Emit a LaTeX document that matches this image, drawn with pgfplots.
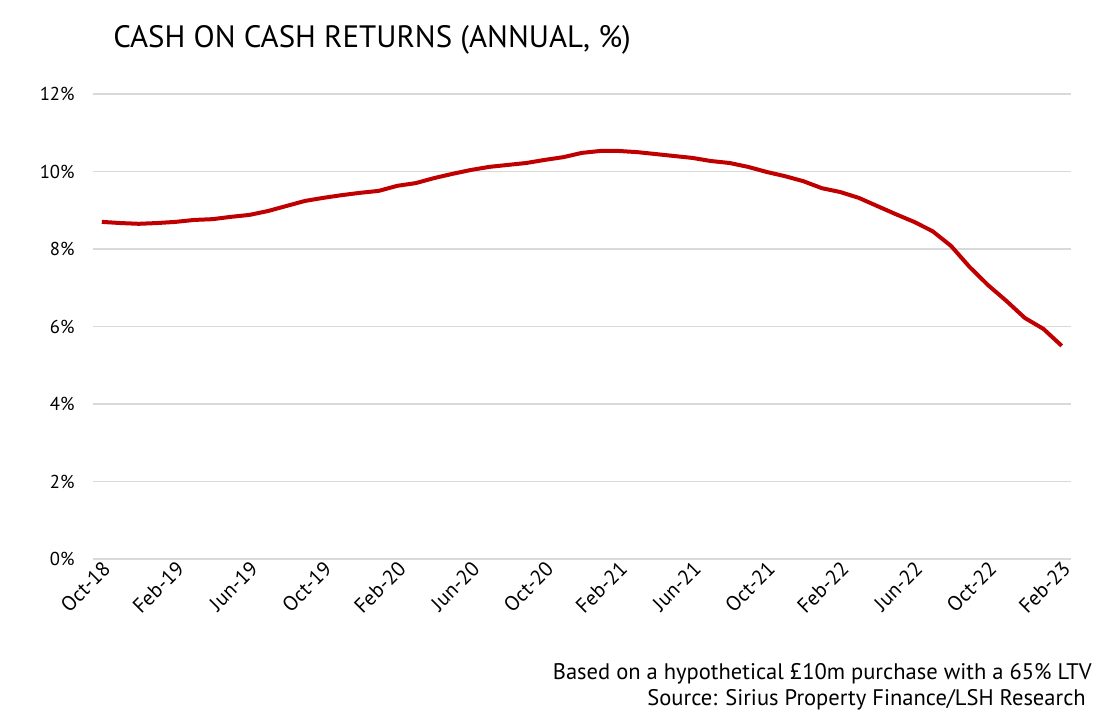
\documentclass[border=0pt]{standalone}
\usepackage{fontspec}
\setmainfont{PT Sans}
\usepackage{pgfplots}
\pgfplotsset{compat=1.18}
\definecolor{linered}{HTML}{C00000}
\definecolor{gridgray}{HTML}{D9D9D9}
\begin{document}
\begin{tikzpicture}
\useasboundingbox (0,0) rectangle (830.25pt,539.25pt);
\begin{axis}[
  at={(69.45pt,120pt)}, anchor=south west,
  scale only axis, width=733.8pt, height=348.75pt,
  xmin=-0.5, xmax=52.5, ymin=0, ymax=12,
  axis x line*=bottom, axis y line*=left,
  y axis line style={draw=none},
  x axis line style={draw=gridgray, line width=1.2pt},
  ytick={0,2,4,6,8,10,12},
  yticklabels={0\%,2\%,4\%,6\%,8\%,10\%,12\%},
  ytick style={draw=none},
  ymajorgrids, major grid style={draw=gridgray, line width=1.2pt},
  xtick={0,4,...,52},
  xticklabels={Oct-18,Feb-19,Jun-19,Oct-19,Feb-20,Jun-20,Oct-20,Feb-21,Jun-21,Oct-21,Feb-22,Jun-22,Oct-22,Feb-23},
  xtick style={draw=none},
  extra x ticks={-0.5,3.5,...,51.5},
  extra x tick labels={},
  extra x tick style={tick style={draw=gridgray, line width=1.2pt}, major tick length=5pt, tick align=outside},
  yticklabel style={font=\fontsize{14}{16}\selectfont, xshift=-10pt},
  xticklabel style={font=\fontsize{15.5}{18}\selectfont, rotate=45, anchor=east, yshift=-6pt, xshift=2.5pt},
  clip=false,
]
\addplot[linered, line width=3pt, line join=round] coordinates {
(0,8.70) (1,8.67) (2,8.65) (3,8.67) (4,8.70) (5,8.75) (6,8.77) (7,8.83) (8,8.88) (9,8.98)
(10,9.11) (11,9.24) (12,9.32) (13,9.39) (14,9.45) (15,9.50) (16,9.63) (17,9.70) (18,9.83) (19,9.94)
(20,10.04) (21,10.12) (22,10.17) (23,10.22) (24,10.30) (25,10.37) (26,10.48) (27,10.53) (28,10.53) (29,10.50)
(30,10.45) (31,10.40) (32,10.35) (33,10.27) (34,10.22) (35,10.12) (36,9.99) (37,9.88) (38,9.75) (39,9.57)
(40,9.47) (41,9.32) (42,9.11) (43,8.90) (44,8.70) (45,8.46) (46,8.08) (47,7.54) (48,7.07) (49,6.66)
(50,6.22) (51,5.94) (52,5.50)
};
\end{axis}
\node[anchor=base west, font=\fontsize{23.2}{26}\selectfont, inner sep=0pt] at (84.75pt,503.25pt) {CASH ON CASH RETURNS (ANNUAL, \%)};
\node[anchor=base east, font=\fontsize{16.9}{19}\selectfont, inner sep=0pt] at (819pt,30pt) {Based on a hypothetical £10m purchase with a 65\% LTV};
\node[anchor=base east, font=\fontsize{16.9}{19}\selectfont, inner sep=0pt] at (814.5pt,10.5pt) {Source: Sirius Property Finance/LSH Research};
\end{tikzpicture}
\end{document}
